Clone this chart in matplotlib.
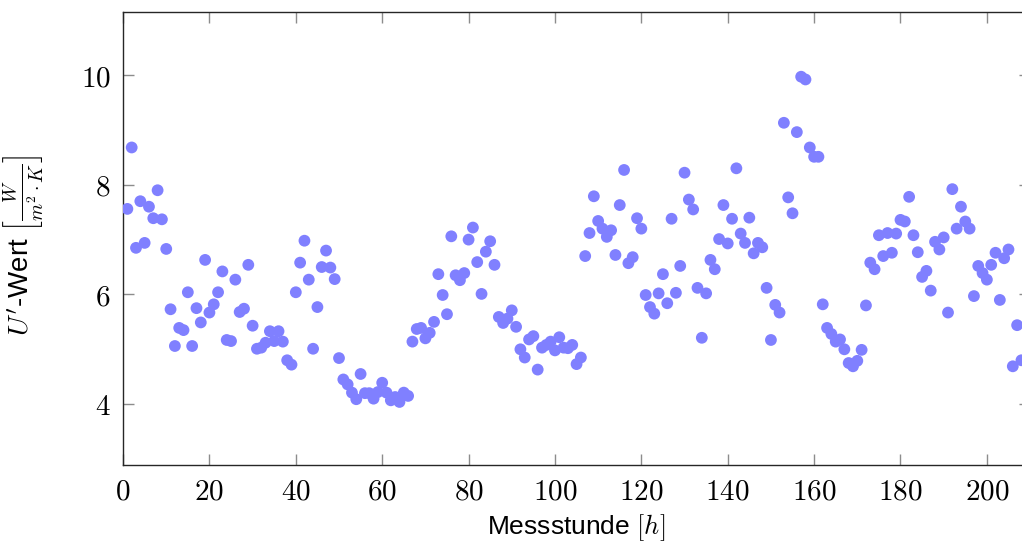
import matplotlib
matplotlib.use('Agg')
import matplotlib.pyplot as plt

plt.rcParams['mathtext.fontset'] = 'cm'
plt.rcParams['font.family'] = ['Liberation Sans', 'DejaVu Sans']

# hourly U' values, hour 1 .. 208
hours = list(range(1, 209))
u_values = [
    7.56, 8.68, 6.85, 7.70, 6.94, 7.60, 7.39, 7.90, 7.37, 6.83,
    5.73, 5.06, 5.39, 5.35, 6.04, 5.06, 5.75, 5.49, 6.63, 5.67,
    5.82, 6.04, 6.42, 5.17, 5.15, 6.27, 5.68, 5.74, 6.54, 5.43,
    5.01, 5.03, 5.12, 5.33, 5.15, 5.33, 5.14, 4.80, 4.72, 6.04,
    6.58, 6.98, 6.27, 5.01, 5.77, 6.50, 6.80, 6.49, 6.28, 4.84,
    4.45, 4.36, 4.21, 4.09, 4.55, 4.20, 4.20, 4.10, 4.22, 4.39,
    4.21, 4.07, 4.13, 4.04, 4.21, 4.15, 5.14, 5.37, 5.39, 5.20,
    5.30, 5.50, 6.37, 5.99, 5.64, 7.06, 6.35, 6.26, 6.39, 7.00,
    7.22, 6.59, 6.01, 6.78, 6.97, 6.54, 5.59, 5.48, 5.56, 5.71,
    5.41, 5.00, 4.85, 5.18, 5.24, 4.63, 5.03, 5.08, 5.14, 4.98,
    5.22, 5.03, 5.02, 5.08, 4.73, 4.85, 6.70, 7.12, 7.79, 7.34,
    7.20, 7.05, 7.17, 6.72, 7.63, 8.27, 6.57, 6.68, 7.39, 7.20,
    5.99, 5.77, 5.65, 6.02, 6.37, 5.84, 7.38, 6.03, 6.52, 8.22,
    7.73, 7.55, 6.12, 5.21, 6.02, 6.63, 6.46, 7.01, 7.63, 6.93,
    7.38, 8.30, 7.11, 6.94, 7.40, 6.75, 6.94, 6.86, 6.12, 5.17,
    5.81, 5.67, 9.13, 7.77, 7.48, 8.96, 9.97, 9.92, 8.68, 8.51,
    8.51, 5.82, 5.39, 5.28, 5.14, 5.18, 5.00, 4.75, 4.69, 4.79,
    4.99, 5.80, 6.58, 6.46, 7.08, 6.70, 7.12, 6.76, 7.11, 7.36,
    7.33, 7.78, 7.08, 6.77, 6.32, 6.43, 6.07, 6.96, 6.82, 7.04,
    5.67, 7.92, 7.20, 7.60, 7.33, 7.20, 5.97, 6.52, 6.39, 6.27,
    6.54, 6.76, 5.90, 6.66, 6.82, 4.69, 5.44, 4.80,
]

x_ticks = [0, 20, 40, 60, 80, 100, 120, 140, 160, 180, 200]
y_ticks = [4, 6, 8, 10]

fig = plt.figure(figsize=(10.22, 5.43), dpi=100)
# axes box runs a little past the right edge of the picture, as in the original
ax = fig.add_axes([0.1204, 0.1436, 0.8875, 0.8343])

ax.scatter(hours, u_values, s=72, color='#8080ff', edgecolors='none', zorder=3)

ax.set_xlim(0, 210)
ax.set_ylim(2.89, 11.15)
ax.set_xticks(x_ticks)
ax.set_xticklabels([f'${t}$' for t in x_ticks])
ax.set_yticks(y_ticks)
ax.set_yticklabels([f'${t}$' for t in y_ticks])

ax.tick_params(direction='in', length=8, width=1, color='0.55',
               labelsize=21, pad=9, top=True, right=True)
for side in ax.spines.values():
    side.set_linewidth(1.0)
    side.set_color('0.15')

ax.set_xlabel(r'Messstunde $[h]$', fontsize=19, labelpad=5)
ax.set_ylabel(r"$U'$-Wert $\left[\frac{W}{m^2\cdot K}\right]$", fontsize=20)
ax.yaxis.set_label_coords(-0.084, 0.486)

fig.savefig('out.png', dpi=100)
